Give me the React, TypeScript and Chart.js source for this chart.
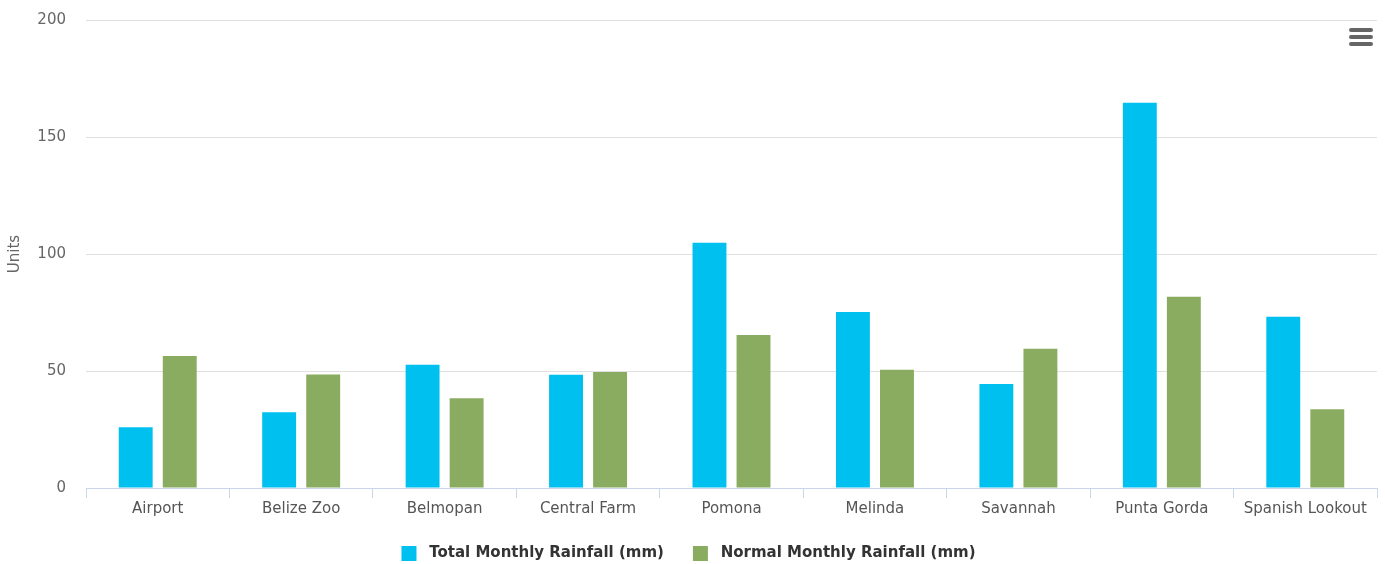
import React, { useEffect, useRef } from "react";
import { Chart, registerables } from "chart.js";

Chart.register(...registerables);

const categories = ["Airport", "Belize Zoo", "Belmopan", "Central Farm", "Pomona", "Melinda", "Savannah", "Punta Gorda", "Spanish Lookout"];
const totalRainfall = [26, 32.4, 52.7, 48.4, 104.8, 75.2, 44.4, 164.6, 73.2];
const normalRainfall = [56.4, 48.5, 38.4, 49.6, 65.4, 50.5, 59.5, 81.7, 33.7];
const seriesNames = ["Total Monthly Rainfall (mm)", "Normal Monthly Rainfall (mm)"];
const yTicks = [0, 50, 100, 150, 200];

const FONT = "DejaVu Sans, sans-serif";

export default function App() {
  const ref = useRef<HTMLCanvasElement | null>(null);
  useEffect(() => {
    document.body.style.margin = "0";
    const ctx = ref.current!;
    const chart = new Chart(ctx, {
      type: "bar",
      data: {
        labels: categories,
        datasets: [
          { label: seriesNames[0], data: totalRainfall, backgroundColor: "#00c0ef", categoryPercentage: 0.614, barPercentage: 0.77 },
          { label: seriesNames[1], data: normalRainfall, backgroundColor: "#8aac60", categoryPercentage: 0.614, barPercentage: 0.77 },
        ],
      },
      options: {
        animation: false,
        responsive: false,
        layout: { padding: { top: 20, right: 8, left: 0, bottom: -7 } },
        plugins: {
          tooltip: { enabled: false },
          legend: {
            position: "bottom",
            labels: {
              font: { family: FONT, size: 15, weight: "bold" },
              color: "#333",
              boxWidth: 15,
              boxHeight: 15,
              padding: 29,
              generateLabels: (c: any) => {
                const base = Chart.defaults.plugins.legend.labels.generateLabels(c);
                return base.map((l: any) => ({ ...l, text: " " + l.text, lineWidth: 0 }));
              },
            },
          },
        },
        scales: {
          x: {
            offset: true,
            grid: { offset: true, drawOnChartArea: false, drawTicks: true, tickLength: 10, color: "#ccd6eb" },
            border: { display: true, color: "#ccd6eb" },
            ticks: { font: { family: FONT, size: 15 }, color: "#555", padding: 2, maxRotation: 0, autoSkip: false },
            afterFit: (s: any) => { s.height = 29; s.paddingLeft = 0; s.paddingRight = 0; },
          },
          y: {
            min: 0,
            max: 200,
            afterBuildTicks: (s: any) => { s.ticks = yTicks.map((v) => ({ value: v })); },
            grid: { color: "#e0e0e0", drawTicks: false },
            border: { display: false },
            ticks: { font: { family: FONT, size: 15 }, color: "#666", padding: 20 },
            title: { display: true, text: "Units", font: { family: FONT, size: 15 }, color: "#666", padding: { top: 6, bottom: 0 } },
            afterFit: (s: any) => { s.width = 86; s.paddingTop = 0; s.paddingBottom = 0; },
          },
        },
      },
    });
    return () => chart.destroy();
  }, []);
  return (
    <div style={{ position: "relative", width: 1385, height: 564 }}>
      <canvas ref={ref} width={1385} height={564} style={{ display: "block" }} />
      <div style={{ position: "absolute", left: 1349, top: 28, width: 24 }}>
        {[0, 1, 2].map((i) => (
          <div key={i} style={{ height: 4, borderRadius: 2, background: "#666", marginBottom: 3 }} />
        ))}
      </div>
    </div>
  );
}
